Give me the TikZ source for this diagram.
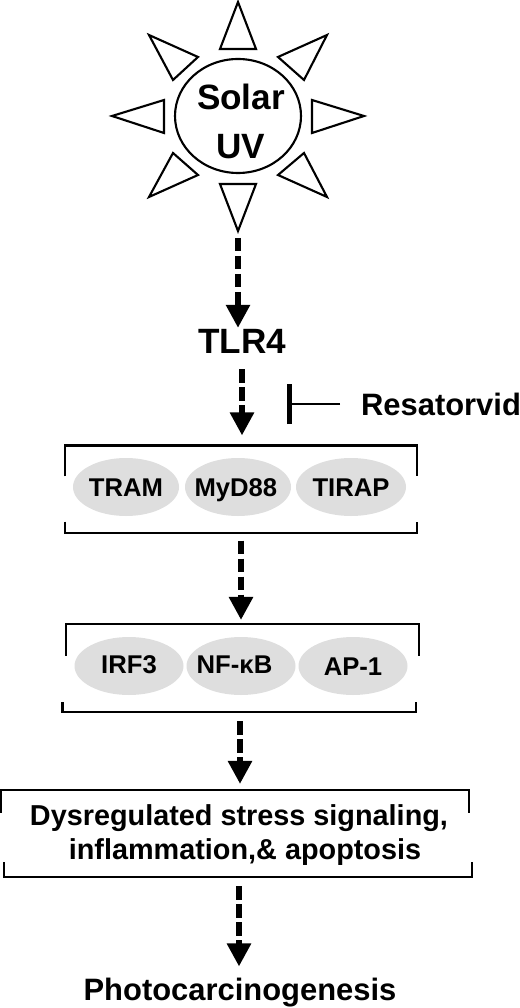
\documentclass[tikz,border=0pt]{standalone}
\usepackage{fontspec}
\setmainfont{Liberation Sans}
\usetikzlibrary{arrows.meta, shapes.geometric}
\definecolor{cpill}{HTML}{DEDEDE}
\newcommand{\pilltext}[1]{\makebox[0pt]{#1}}
\tikzset{
  every picture/.style={font=\bfseries, line width=1.2pt},
  big/.style={font=\bfseries\fontsize{20}{28}\selectfont, align=center, inner sep=0pt},
  label/.style={font=\bfseries\fontsize{17.6}{19.6}\selectfont, align=center, inner sep=0pt},
  pill/.style={ellipse, fill=cpill, inner sep=0pt, minimum width=#1, minimum height=1.16cm, text height=0.37cm, text depth=0pt, font=\bfseries\fontsize{14.6}{16}\selectfont},
  pill/.default=2.12cm,
  group/.style={inner sep=0pt, minimum height=1.7cm},
  ray/.style={draw=black, line width=1.2pt, line join=miter},
  arrow/.style={-{Triangle[length=0.46cm, width=0.46cm]}, line width=3.2pt, dash pattern=on 0.27cm off 0.09cm},
  inhibit/.style={-{Bar[width=0.8cm, line width=2.8pt]}, line width=1.4pt},
}
\begin{document}
\begin{tikzpicture}
  \path[use as bounding box] (0,0) rectangle (10.4,-20.16);
  % sun
  \node[ellipse, draw, minimum width=2.52cm, minimum height=2.28cm, inner sep=0pt] (sun) at (4.76,-2.32) {};
  \node[big] (sunlabel) at (4.82,-2.43) {Solar\\UV};
  \foreach \a/\b/\c in {
    {4.76,-0.04}/{4.40,-0.98}/{5.12,-0.98},
    {4.76,-4.62}/{4.40,-3.68}/{5.12,-3.68},
    {2.24,-2.32}/{3.28,-2.00}/{3.28,-2.66},
    {7.28,-2.32}/{6.24,-2.00}/{6.24,-2.66},
    {2.98,-0.70}/{3.96,-1.14}/{3.46,-1.60},
    {6.54,-0.70}/{5.56,-1.14}/{6.08,-1.60},
    {2.98,-3.94}/{3.96,-3.50}/{3.46,-3.06},
    {6.54,-3.94}/{5.56,-3.50}/{6.08,-3.06}}
    \draw[ray] (\a) -- (\b) -- (\c) -- cycle;
  \coordinate (raytip) at (4.76,-4.76);

  \node[big] (tlr) at (4.84,-6.82) {TLR4};
  \node[label] (resa) at (8.82,-8.08) {Resatorvid};
  \coordinate (block) at (5.74,-8.08);

  \node[group, minimum width=7cm] (first) at (4.82,-9.78) {};
  \node[pill] (tram) at (2.52,-9.74) {\pilltext{TRAM}};
  \node[pill] (myd) at (4.76,-9.74) {\pilltext{MyD88\,}};
  \node[pill=2.2cm] (tirap) at (7.02,-9.74) {\pilltext{TIRAP}};

  \node[group, minimum width=7.02cm, minimum height=1.72cm] (second) at (4.85,-13.36) {};
  \node[pill=2.18cm, text depth=0.07cm] (irf) at (2.58,-13.32) {\pilltext{IRF3}};
  \node[pill=2.18cm, text depth=0.08cm] (nfkb) at (4.82,-13.32) {\pilltext{NF-κB\kern0.26cm}};
  \node[pill=2.18cm] (ap) at (7.06,-13.32) {\pilltext{AP-1}};

  \node[group, minimum width=9.32cm] (third) at (4.70,-16.67) {};
  \node[label, font=\bfseries\fontsize{16.4}{19.4}\selectfont] (stress) at (4.78,-16.70) {Dysregulated stress signaling,\\\hspace*{0.24cm}inflammation,\& apoptosis};

  \node[label] (photo) at (4.80,-19.86) {Photocarcinogenesis};

  \foreach \g/\t/\b/\d in {first/0.62/0.22/0, second/0.64/0.2/-0.07, third/0.46/0.3/0.06} {
    \draw ([yshift=-\t cm]\g.north west) |- (\g.north east) -- ++(0,-\t);
    \draw ([xshift=\d cm, yshift=\b cm]\g.south west) |- ([xshift=\d cm]\g.south east) -- ++(0,\b);
  }

  \draw[arrow] (raytip) -- (raytip |- tlr.north);
  \draw[arrow, shorten <=0.3cm, shorten >=0.2cm] (tlr.south) -- (tlr.south |- first.north);
  \draw[arrow, shorten <=0.16cm, shorten >=0.08cm] (first.south) -- (first.south |- second.north);
  \draw[arrow, shorten <=0.18cm, shorten >=0.12cm] (second.south -| photo) -- (third.north -| photo);
  \draw[arrow, shorten <=0.18cm, shorten >=0.22cm] (third.south -| stress) -- (stress |- photo.north);
  \draw[inhibit, shorten <=0.4cm] (resa.west) -- (block);
\end{tikzpicture}
\end{document}
